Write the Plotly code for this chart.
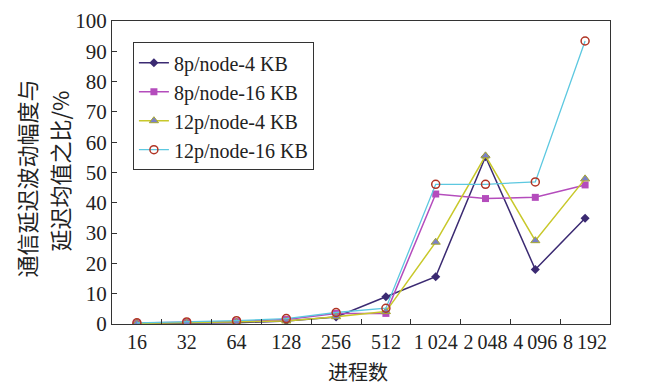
import plotly.graph_objects as go

categories = ["16", "32", "64", "128", "256", "512",
              "1\u2009024", "2\u2009048", "4\u2009096", "8\u2009192"]

s_8p_4kb = [0.2, 0.2, 0.4, 1.0, 2.3, 9.0, 15.6, 55.2, 18.0, 34.9]
s_8p_16kb = [0.3, 0.5, 0.8, 1.5, 3.5, 3.5, 42.9, 41.4, 41.8, 45.9]
s_12p_4kb = [0.2, 0.4, 0.6, 1.0, 2.4, 4.1, 27.0, 55.5, 27.5, 47.9]
s_12p_16kb = [0.4, 0.7, 1.1, 1.8, 3.8, 5.2, 46.1, 46.1, 46.9, 93.4]

names = ["8p/node-4 KB", "8p/node-16 KB", "12p/node-4 KB", "12p/node-16 KB"]

y_tickvals = list(range(0, 101, 10))

fig = go.Figure()
fig.add_trace(go.Scatter(
    x=categories, y=s_8p_4kb, name=names[0], mode="lines+markers",
    line=dict(color="#3b2a72", width=1.5),
    marker=dict(symbol="diamond", size=7, color="#3b2a72")))
fig.add_trace(go.Scatter(
    x=categories, y=s_8p_16kb, name=names[1], mode="lines+markers",
    line=dict(color="#b44cbc", width=1.5),
    marker=dict(symbol="square", size=7, color="#b44cbc")))
fig.add_trace(go.Scatter(
    x=categories, y=s_12p_4kb, name=names[2], mode="lines+markers",
    line=dict(color="#c8c82a", width=1.5),
    marker=dict(symbol="triangle-up", size=8, color="#7a80c8",
                line=dict(color="#a8a830", width=1))))
fig.add_trace(go.Scatter(
    x=categories, y=s_12p_16kb, name=names[3], mode="lines+markers",
    line=dict(color="#5cc8e0", width=1.3),
    marker=dict(symbol="circle-open", size=8, color="#b03424",
                line=dict(width=1.5))))

serif = "'Liberation Serif', 'Times New Roman', 'DejaVu Serif', serif"
cjk = "Noto Sans CJK SC"

fig.update_layout(
    width=648, height=385,
    margin=dict(l=112, r=38, t=21, b=61),
    paper_bgcolor="white", plot_bgcolor="white",
    font=dict(family=serif, size=20, color="#222222"),
    showlegend=True,
    legend=dict(
        x=0.042, y=0.93, xanchor="left", yanchor="top",
        bgcolor="white", bordercolor="#333333", borderwidth=1,
        font=dict(family=serif, size=20, color="#222222"),
        itemwidth=30, tracegroupgap=0),
    xaxis=dict(
        type="category", range=[-0.5, 9.5], tickangle=0,
        automargin=False,
        showline=True, linecolor="#333333", linewidth=1, mirror=True,
        ticks="inside", ticklen=5, tickcolor="#333333",
        tickson="boundaries", showgrid=False, zeroline=False,
        tickfont=dict(family=serif, size=20, color="#222222")),
    yaxis=dict(
        range=[0, 100], tickvals=y_tickvals, automargin=False,
        showline=True, linecolor="#333333", linewidth=1, mirror=True,
        ticks="inside", ticklen=5, tickcolor="#333333",
        showgrid=False, zeroline=False,
        tickfont=dict(family=serif, size=21, color="#222222")),
    annotations=[
        dict(text="通信延迟波动幅度与", xref="paper", yref="paper",
             x=(25 - 112) / 498, y=(324 - 178.5) / 303,
             xanchor="center", yanchor="middle", textangle=-90,
             showarrow=False, font=dict(family=cjk, size=22, color="#222222")),
        dict(text="延迟均值之比/%", xref="paper", yref="paper",
             x=(58 - 112) / 498, y=(324 - 171.5) / 303,
             xanchor="center", yanchor="middle", textangle=-90,
             showarrow=False, font=dict(family=cjk, size=22, color="#222222")),
        dict(text="进程数", xref="paper", yref="paper",
             x=(358 - 112) / 498, y=(324 - 371) / 303,
             xanchor="center", yanchor="middle",
             showarrow=False, font=dict(family=cjk, size=20, color="#222222")),
    ],
)

fig.write_html("out.html")
